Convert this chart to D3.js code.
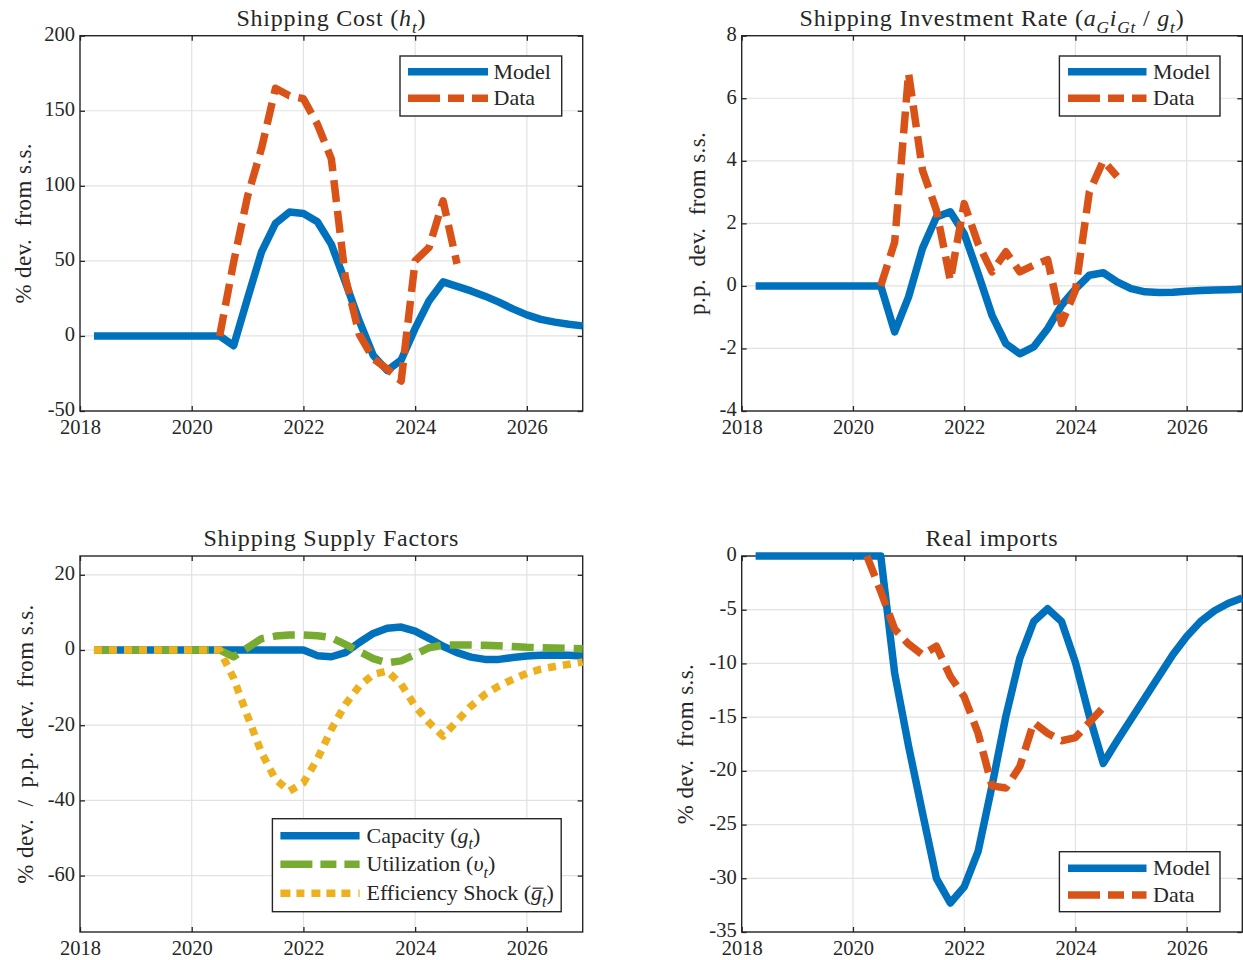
<!DOCTYPE html>
<html><head><meta charset="utf-8">
<script src="https://cdnjs.cloudflare.com/ajax/libs/d3/7.8.5/d3.min.js"></script>
<style>
html,body{margin:0;padding:0;background:#fff;}
svg{display:block;}
svg text{font-family:"Liberation Serif","Times New Roman",serif !important;fill:#262626;white-space:pre;}
</style></head><body>
<svg id="chart" width="1243" height="960" font-family="Liberation Serif, serif"></svg>
<script>
// ---------------- DATA ----------------
const xTickYears = [2018, 2020, 2022, 2024, 2026];
const quarterStep = 0.25;
const modelStart = 2018.25;

// Shipping cost (h_t), % dev. from s.s.
const costModel = [0,0,0,0,0,0,0,0,0,0,
  -6.5, 25, 56, 75, 82.5, 81.5, 76, 61, 36, 10, -13, -23, -16, 5, 23.5, 36,
  33, 30, 26.5, 22.5, 18, 14, 11, 9.2, 7.8, 6.7];
const costDataStart = 2020.5;
const costData = [0, 49, 93, 125, 165, 160, 158, 141, 118, 39, 1, -15, -22, -30, 50, 59, 90, 48];
const costTicks = [-50, 0, 50, 100, 150, 200];

// Shipping investment rate, p.p. dev. from s.s.
const invModel = [0,0,0,0,0,0,0,0,0,0,
  -1.47, -0.35, 1.2, 2.2, 2.37, 1.67, 0.4, -0.94, -1.85, -2.17, -1.95, -1.37, -0.62, -0.1, 0.34, 0.42,
  0.13, -0.09, -0.19, -0.21, -0.2, -0.17, -0.15, -0.13, -0.12, -0.11];
const invDataStart = 2020.5;
const invData = [0, 1.4, 6.8, 3.7, 2.42, 0.18, 2.63, 1.35, 0.45, 1.09, 0.45, 0.66, 0.84, -1.2, -0.14, 3.0, 4.0, 3.5];
const invTicks = [-4, -2, 0, 2, 4, 6, 8];

// Shipping supply factors
const capacity = [0,0,0,0,0,0,0,0,0,0,
  0, 0, 0, 0, 0, 0, -1.5, -1.8, -0.7, 2.0, 4.4, 5.8, 6.1, 5.0, 3.1, 1.0,
  -0.7, -1.9, -2.5, -2.5, -2.0, -1.6, -1.4, -1.3, -1.4, -1.6];
const utilization = [0,0,0,0,0,0,0,0,0,0,
  -1.8, 0.6, 3.0, 3.7, 4.0, 4.0, 3.8, 3.3, 1.5, -0.4, -2.3, -3.4, -2.9, -1.2, 0.6, 1.3,
  1.3, 1.3, 1.25, 1.1, 0.9, 0.7, 0.6, 0.5, 0.45, 0.35];
const efficiency = [0,0,0,0,0,0,0,0,0,0,
  -7.5, -17.6, -27.3, -34.4, -37.5, -35.3, -29, -21.1, -14.5, -9.6, -6.5, -5.6, -9.1, -14.9, -19.3, -22.9,
  -18.9, -14.9, -11.8, -9.6, -7.8, -6.2, -5.1, -4.4, -3.8, -3.2];
const supplyTicks = [-60, -40, -20, 0, 20];

// Real imports, % dev. from s.s.
const importsModel = [0,0,0,0,0,0,0,0,0,0,
  -10.9, -17.7, -23.9, -30.0, -32.3, -30.8, -27.5, -21.4, -14.9, -9.5, -6.1, -4.9, -6.1, -9.9, -14.9, -19.3,
  -17.2, -15.2, -13.2, -11.2, -9.2, -7.5, -6.1, -5.1, -4.4, -3.9];
const importsDataStart = 2020.25;
const importsData = [0, -3.3, -6.8, -8.2, -9.2, -8.4, -11.2, -13.1, -16.5, -21.4, -21.6, -19.6, -15.5, -16.5, -17.2, -16.9, -15.5, -14.1];
const importsTicks = [-35, -30, -25, -20, -15, -10, -5, 0];

// ---------------- STYLE / LAYOUT ----------------
const FONT = '"Liberation Serif", "Times New Roman", serif';
const C = {blue:"#0072BD", orange:"#D95319", green:"#77AC30", yellow:"#EDB120", axis:"#262626", grid:"#e2e2e2"};
const LW = 7.5;
const DASH = "22,9", DOT = "8,7";
const LEG_DASH = "32,8,16,8,16", LEG_DOT = "10,6,8,7,9,6,9,6,9,8";
const TICK_FS = 20.5, LABEL_FS = 23, TITLE_FS = 24, LEG_FS = 22;

const svg = d3.select("#chart");

function toPoints(start, vals) { return vals.map((v, i) => [start + i * quarterStep, v]); }

function rich(sel, parts, size) {
  let shift = 0, idx = 0; const over = [];
  parts.forEach(([txt, st]) => {
    const ts = sel.append("tspan").text(txt);
    const sub = st.includes("s");
    const target = sub ? size * 0.3 : 0;
    if (target - shift !== 0) ts.attr("dy", target - shift);
    shift = target;
    if (st.includes("i")) ts.style("font-style", "italic");
    if (sub) ts.attr("font-size", size * 0.72);
    if (st.includes("o")) over.push(idx);
    idx += txt.length;
  });
  return over;
}

function drawPanel(cfg) {
  const g = svg.append("g").style("font-family", FONT);
  const x = d3.scaleLinear().domain([2018, 2027]).range([cfg.x0, cfg.x1]);
  const y = d3.scaleLinear().domain(cfg.yDomain).range([cfg.y1, cfg.y0]);

  // grid
  g.append("g").selectAll("line").data(xTickYears.filter(d => d > 2018)).join("line")
    .attr("x1", d => x(d)).attr("x2", d => x(d)).attr("y1", cfg.y0).attr("y2", cfg.y1)
    .attr("stroke", C.grid).attr("stroke-width", 1.2);
  g.append("g").selectAll("line").data(cfg.yTicks).join("line")
    .attr("y1", d => y(d)).attr("y2", d => y(d)).attr("x1", cfg.x0).attr("x2", cfg.x1)
    .attr("stroke", C.grid).attr("stroke-width", 1.2);

  // axes with inward ticks
  const styleAxis = s => {
    s.attr("font-family", null).style("font-family", FONT);
    s.select(".domain").remove();
    s.selectAll(".tick line").attr("stroke", C.axis).attr("stroke-width", 1.3);
    s.selectAll("text").attr("fill", C.axis).attr("font-size", TICK_FS).style("font-family", FONT);
  };
  g.append("g").attr("transform", `translate(0,${cfg.y1})`)
    .call(d3.axisBottom(x).tickValues(xTickYears).tickFormat(d3.format("d")).tickSizeInner(-5).tickSizeOuter(0).tickPadding(8))
    .call(styleAxis);
  g.append("g").attr("transform", `translate(0,${cfg.y0})`)
    .call(d3.axisTop(x).tickValues(xTickYears).tickFormat("").tickSizeInner(-5).tickSizeOuter(0))
    .call(styleAxis);
  g.append("g").attr("transform", `translate(${cfg.x0},0)`)
    .call(d3.axisLeft(y).tickValues(cfg.yTicks).tickFormat(d => String(d)).tickSizeInner(-5).tickSizeOuter(0).tickPadding(5))
    .call(styleAxis)
    .selectAll("text").attr("dy", "0.24em");
  g.append("g").attr("transform", `translate(${cfg.x1},0)`)
    .call(d3.axisRight(y).tickValues(cfg.yTicks).tickFormat("").tickSizeInner(-5).tickSizeOuter(0))
    .call(styleAxis);
  g.append("rect").attr("x", cfg.x0).attr("y", cfg.y0).attr("width", cfg.x1 - cfg.x0).attr("height", cfg.y1 - cfg.y0)
    .attr("fill", "none").attr("stroke", C.axis).attr("stroke-width", 1.4);

  // series
  const line = d3.line().x(d => x(d[0])).y(d => y(d[1]));
  cfg.series.forEach(s => {
    g.append("path").datum(s.points).attr("d", line)
      .attr("fill", "none").attr("stroke", s.color).attr("stroke-width", LW)
      .attr("stroke-dasharray", s.dash || null).attr("stroke-linejoin", "round").attr("stroke-linecap", "butt");
  });

  // title
  const t = g.append("text").attr("x", (cfg.x0 + cfg.x1) / 2).attr("y", cfg.y0 - 10)
    .attr("text-anchor", "middle").attr("font-size", TITLE_FS).style("letter-spacing", "0.8px");
  rich(t, cfg.title, TITLE_FS);

  // y label
  g.append("text").attr("transform", `translate(${cfg.labelX},${(cfg.y0 + cfg.y1) / 2}) rotate(-90)`)
    .attr("text-anchor", "middle").attr("font-size", LABEL_FS).style("letter-spacing", "0.4px").text(cfg.ylabel);

  // legend
  const L = cfg.legend;
  const lg = g.append("g");
  lg.append("rect").attr("x", L.x0).attr("y", L.y0).attr("width", L.x1 - L.x0).attr("height", L.y1 - L.y0)
    .attr("fill", "#fff").attr("stroke", C.axis).attr("stroke-width", 1.4);
  cfg.series.forEach((s, i) => {
    const ry = L.rows[i];
    lg.append("line").attr("x1", L.sx0).attr("x2", L.sx1).attr("y1", ry).attr("y2", ry)
      .attr("stroke", s.color).attr("stroke-width", LW).attr("stroke-dasharray", s.legDash || null);
    const tx = lg.append("text").attr("x", L.tx).attr("y", ry + 7).attr("font-size", LEG_FS);
    const over = rich(tx, s.label, LEG_FS);
    over.forEach(ci => {
      const node = tx.node();
      const a = node.getStartPositionOfChar(ci), b = node.getEndPositionOfChar(ci);
      lg.append("line").attr("x1", a.x + 1.5).attr("x2", b.x + 1.5).attr("y1", a.y - LEG_FS * 0.55).attr("y2", a.y - LEG_FS * 0.55)
        .attr("stroke", C.axis).attr("stroke-width", 1.2);
    });
  });
}

const modelLabel = [["Model", ""]], dataLabel = [["Data", ""]];

drawPanel({
  x0: 80, x1: 582.7, y0: 35.7, y1: 411, yDomain: [-50, 200], yTicks: costTicks,
  title: [["Shipping Cost (", ""], ["h", "i"], ["t", "is"], [")", ""]],
  ylabel: "% dev.\u00a0 from s.s.", labelX: 31,
  series: [
    {points: toPoints(modelStart, costModel), color: C.blue, label: modelLabel},
    {points: toPoints(costDataStart, costData), color: C.orange, dash: DASH, legDash: LEG_DASH, label: dataLabel}
  ],
  legend: {x0: 400, x1: 561.7, y0: 56, y1: 116, rows: [71.7, 98.3], sx0: 408, sx1: 488, tx: 493.5}
});

drawPanel({
  x0: 741.7, x1: 1242.3, y0: 35.7, y1: 411, yDomain: [-4, 8], yTicks: invTicks,
  title: [["Shipping Investment Rate (", ""], ["a", "i"], ["G", "is"], ["i", "i"], ["Gt", "is"], [" / ", ""], ["g", "i"], ["t", "is"], [")", ""]],
  ylabel: "p.p.\u00a0 dev.\u00a0 from s.s.", labelX: 705,
  series: [
    {points: toPoints(modelStart, invModel), color: C.blue, label: modelLabel},
    {points: toPoints(invDataStart, invData), color: C.orange, dash: DASH, legDash: LEG_DASH, label: dataLabel}
  ],
  legend: {x0: 1059.4, x1: 1220, y0: 56, y1: 116, rows: [71.7, 98.3], sx0: 1068, sx1: 1146.5, tx: 1153}
});

drawPanel({
  x0: 80, x1: 582.7, y0: 556, y1: 932, yDomain: [-75, 25], yTicks: supplyTicks,
  title: [["Shipping Supply Factors", ""]],
  ylabel: "% dev.\u00a0 /\u00a0 p.p.\u00a0 dev.\u00a0 from s.s.", labelX: 33,
  series: [
    {points: toPoints(modelStart, capacity), color: C.blue, label: [["Capacity (", ""], ["g", "i"], ["t", "is"], [")", ""]]},
    {points: toPoints(modelStart, utilization), color: C.green, dash: DASH, legDash: LEG_DASH, label: [["Utilization (", ""], ["\u03c5", "i"], ["t", "is"], [")", ""]]},
    {points: toPoints(modelStart, efficiency), color: C.yellow, dash: DOT, legDash: LEG_DOT, label: [["Efficiency Shock (", ""], ["g", "io"], ["t", "is"], [")", ""]]}
  ],
  legend: {x0: 272.4, x1: 561.2, y0: 818.7, y1: 911.7, rows: [835.7, 864.3, 893.3], sx0: 280.4, sx1: 359.6, tx: 366.5}
});

drawPanel({
  x0: 741.7, x1: 1242.3, y0: 556, y1: 932, yDomain: [-35, 0], yTicks: importsTicks,
  title: [["Real imports", ""]],
  ylabel: "% dev.\u00a0 from s.s.", labelX: 693,
  series: [
    {points: toPoints(modelStart, importsModel), color: C.blue, label: modelLabel},
    {points: toPoints(importsDataStart, importsData), color: C.orange, dash: DASH, legDash: LEG_DASH, label: dataLabel}
  ],
  legend: {x0: 1059.4, x1: 1220, y0: 851.7, y1: 911.7, rows: [868.3, 895], sx0: 1068, sx1: 1146.5, tx: 1153}
});
</script>
</body></html>
